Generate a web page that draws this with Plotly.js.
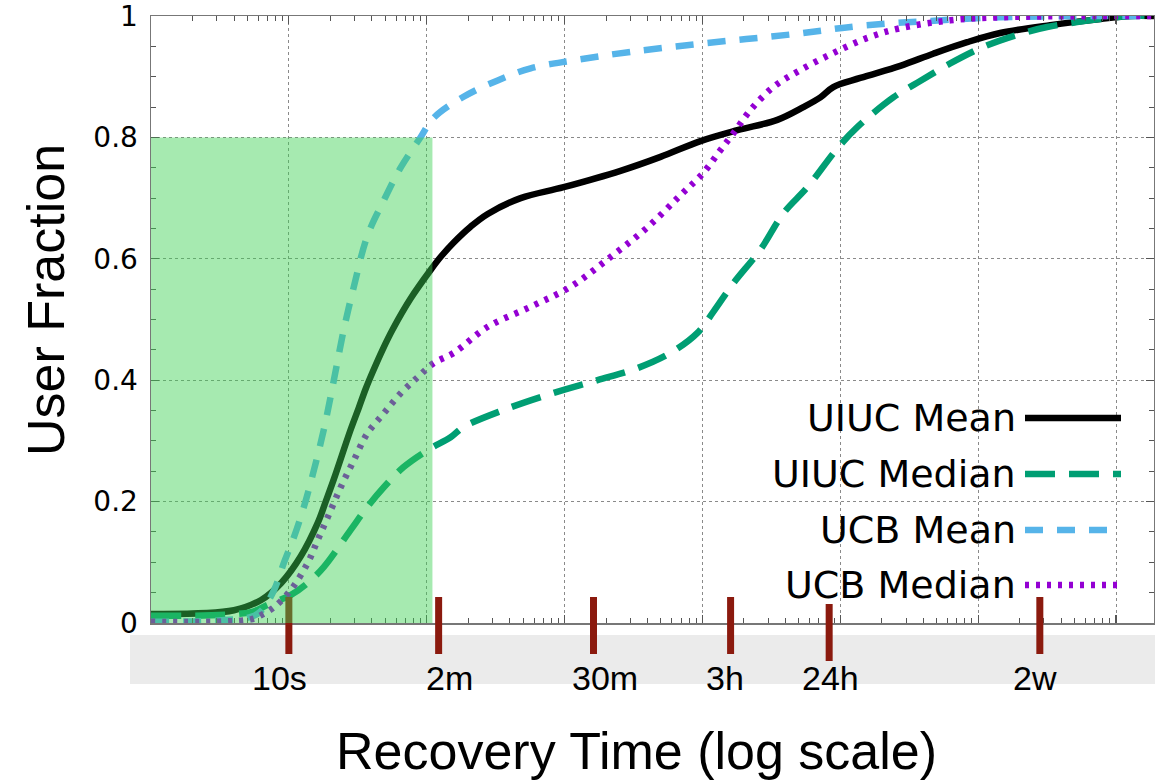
<!DOCTYPE html>
<html>
<head>
<meta charset="utf-8">
<script src="https://cdn.plot.ly/plotly-3.0.1.min.js"></script>
<style>html,body{margin:0;padding:0;background:#fff;}#chart{width:1155px;height:781px;}</style>
</head>
<body>
<div id="chart"></div>
<script>
// ---- data (recovery time in seconds, cumulative user fraction) ----
const uiucMeanX = [1, 4, 6.3, 8.8, 12.2, 16.2, 18.5, 21.2, 28, 32.2, 36.1, 40.6, 48, 56.7, 76.6, 107, 126, 157, 208, 277, 480, 984, 2545, 4966, 9677, 17940, 34940, 53950, 71690, 88920, 139600, 272300, 472000, 832000, 1443000, 3325000, 7656000, 12620000, 18850000];
const uiucMeanY = [0.015, 0.021, 0.038, 0.066, 0.11, 0.165, 0.2, 0.237, 0.318, 0.355, 0.386, 0.414, 0.451, 0.484, 0.535, 0.582, 0.603, 0.627, 0.653, 0.674, 0.70, 0.718, 0.745, 0.768, 0.794, 0.812, 0.829, 0.85, 0.866, 0.883, 0.898, 0.918, 0.938, 0.957, 0.972, 0.985, 0.995, 1.0, 1.0];

const uiucMedianX = [1, 5.3, 7.0, 10.3, 13.7, 17.9, 28, 37, 49, 68, 102, 149, 185, 361, 832, 1734, 3381, 5861, 9201, 12020, 16790, 26300, 38630, 57680, 95100, 132700, 242300, 361400, 627000, 1087000, 1919000, 3162000, 7656000, 12620000, 18850000];
const uiucMedianY = [0.012, 0.018, 0.03, 0.046, 0.066, 0.092, 0.153, 0.191, 0.224, 0.257, 0.285, 0.306, 0.323, 0.351, 0.379, 0.40, 0.42, 0.445, 0.478, 0.513, 0.56, 0.615, 0.675, 0.718, 0.782, 0.817, 0.866, 0.89, 0.922, 0.949, 0.969, 0.982, 0.995, 1.0, 1.0];

const ucbMeanX = [1, 5.3, 6.3, 7.8, 9.2, 10.9, 12.8, 15.2, 17.9, 21.2, 25, 29.6, 37, 49, 65, 90, 112, 185, 327, 567, 1162, 3006, 10170, 44900, 141900, 448700, 1420000, 7656000, 18850000];
const ucbMeanY = [0.002, 0.01, 0.02, 0.054, 0.099, 0.142, 0.19, 0.252, 0.318, 0.40, 0.483, 0.554, 0.637, 0.697, 0.751, 0.80, 0.832, 0.867, 0.894, 0.914, 0.927, 0.941, 0.955, 0.97, 0.984, 0.992, 0.998, 1.0, 1.0];

const ucbMedianX = [1, 5.3, 6.3, 7.8, 10.3, 13.7, 16.2, 19.2, 23.8, 29.6, 37, 49, 65, 86, 112, 157, 277, 567, 1105, 2153, 3993, 6934, 10170, 13490, 16790, 22280, 32660, 51290, 88920, 157000, 272300, 627000, 1443000, 7656000, 18850000];
const ucbMedianY = [0.002, 0.006, 0.013, 0.026, 0.054, 0.099, 0.137, 0.175, 0.224, 0.268, 0.312, 0.346, 0.379, 0.405, 0.428, 0.445, 0.488, 0.521, 0.554, 0.603, 0.652, 0.705, 0.742, 0.779, 0.807, 0.845, 0.883, 0.911, 0.939, 0.964, 0.98, 0.993, 0.998, 1.0, 1.0];

const seriesNames = ["UIUC Mean", "UIUC Median", "UCB Mean", "UCB Median"];

// time landmarks marked below the axis (seconds, as placed in the picture)
const landmarkValues = [10, 122, 1620, 16000, 83000, 2800000];
const landmarkLabels = ["10s", "2m", "30m", "3h", "24h", "2w"];

// y-axis ticks
const yTickValues = [0, 0.2, 0.4, 0.6, 0.8, 1];
const yTickLabels = ["0", "0.2", "0.4", "0.6", "0.8", "1"];

// highlighted region: up to ~2 minutes, up to 80% of users
const highlightMaxTime = 110;
const highlightMaxFraction = 0.8;

// ---- styles ----
const colors = ["#000000", "#009e73", "#56b4e9", "#9400d3"];
const dashes = ["solid", "30px,14px", "18px,14px", "4px,7px"];
const LW = 6.5;

const xs = [uiucMeanX, uiucMedianX, ucbMeanX, ucbMedianX];
const ys = [uiucMeanY, uiucMedianY, ucbMeanY, ucbMedianY];

const traces = seriesNames.map((n, i) => ({
  type: "scatter", mode: "lines", name: n,
  x: xs[i], y: ys[i],
  line: {color: colors[i], width: LW, dash: dashes[i], shape: "spline", smoothing: 1.0},
  showlegend: false, hoverinfo: "skip"
}));

// geometry helpers (plot area: x 151..1154, y 16..623 in pixels)
const L = 151, R = 1154, T = 16, B = 623, W = 1155, H = 781;
const px = p => (p - L) / (R - L);
const py = p => (B - p) / (B - T);

const shapes = [];
const annotations = [];

// grey band below the axis
shapes.push({type: "rect", xref: "paper", yref: "paper", x0: px(130), x1: px(1160), y0: py(684), y1: py(635),
  fillcolor: "#ebebeb", line: {width: 0}, layer: "below"});

// landmark ticks + labels
const labelShift = [-9, 11, 12, -6, 1, -5];
landmarkValues.forEach((v, i) => {
  const low = landmarkLabels[i] === "24h" ? 7 : 0;
  shapes.push({type: "line", xref: "x", yref: "paper", x0: v, x1: v, y0: py(654 + low), y1: py(597 + low),
    line: {color: "#8b1a0e", width: 7}, layer: "above"});
  annotations.push({xref: "x", yref: "paper", x: Math.log10(v), y: py(678), xshift: labelShift[i],
    text: landmarkLabels[i], showarrow: false, xanchor: "center", yanchor: "middle",
    font: {family: "Liberation Sans, Arial, sans-serif", size: 34, color: "#000"}});
});

// highlighted region (semi-transparent, above curves)
shapes.push({type: "rect", xref: "x", yref: "y", x0: 1, x1: highlightMaxTime, y0: -0.005, y1: highlightMaxFraction,
  fillcolor: "rgba(59,209,81,0.455)", line: {width: 0}, layer: "above"});

// manual legend (text right-aligned, key on the right)
const legendRows = [418, 474, 530, 585];
seriesNames.forEach((n, i) => {
  annotations.push({xref: "paper", yref: "paper", x: px(1018), y: py(legendRows[i]), text: n, showarrow: false,
    xanchor: "right", yanchor: "middle",
    font: {family: "DejaVu Sans, sans-serif", size: 38, color: "#000"}});
  shapes.push({type: "line", xref: "paper", yref: "paper", x0: px(1025), x1: px(1121), y0: py(legendRows[i]), y1: py(legendRows[i]),
    line: {color: colors[i], width: LW, dash: dashes[i]}});
});

// axis titles
annotations.push({xref: "paper", yref: "paper", x: px(636), y: py(751), text: "Recovery Time (log scale)", showarrow: false,
  xanchor: "center", yanchor: "middle", font: {family: "Liberation Sans, Arial, sans-serif", size: 52, color: "#000"}});
annotations.push({xref: "paper", yref: "paper", x: px(46), y: py(300), text: "User Fraction", showarrow: false, textangle: -90,
  xanchor: "center", yanchor: "middle", font: {family: "Liberation Sans, Arial, sans-serif", size: 52, color: "#000"}});

const layout = {
  width: W, height: H,
  margin: {l: L, r: W - R, t: T, b: H - B},
  paper_bgcolor: "#ffffff", plot_bgcolor: "#ffffff",
  showlegend: false,
  xaxis: {
    type: "log", range: [0, Math.log10(18850000)], showticklabels: false,
    dtick: 1, tick0: 0, ticks: "inside", ticklen: 8, tickwidth: 1.2, tickcolor: "#555",
    showline: true, linecolor: "#777", linewidth: 1.5, mirror: "ticks",
    showgrid: true, gridcolor: "#8a8a8a", griddash: "dot", gridwidth: 1, zeroline: false,
    minor: {ticks: "inside", ticklen: 5, tickwidth: 1, tickcolor: "#555", showgrid: false}
  },
  yaxis: {
    range: [0, 1.0001], tickmode: "array", tickvals: yTickValues, ticktext: yTickLabels,
    ticks: "inside", ticklen: 8, tickwidth: 1.2, tickcolor: "#555",
    showline: true, linecolor: "#777", linewidth: 1.5, mirror: "ticks",
    showgrid: true, gridcolor: "#8a8a8a", griddash: "dot", gridwidth: 1, zeroline: false,
    ticklabelstandoff: 6, ticklabeloverflow: "allow",
    tickfont: {family: "DejaVu Sans, sans-serif", size: 28, color: "#000"},
    minor: {tickmode: "linear", tick0: 0, dtick: 0.05, ticks: "inside", ticklen: 5, tickwidth: 1, tickcolor: "#555", showgrid: false}
  },
  shapes: shapes,
  annotations: annotations
};

Plotly.newPlot("chart", traces, layout, {displayModeBar: false, staticPlot: true});
</script>
</body>
</html>
